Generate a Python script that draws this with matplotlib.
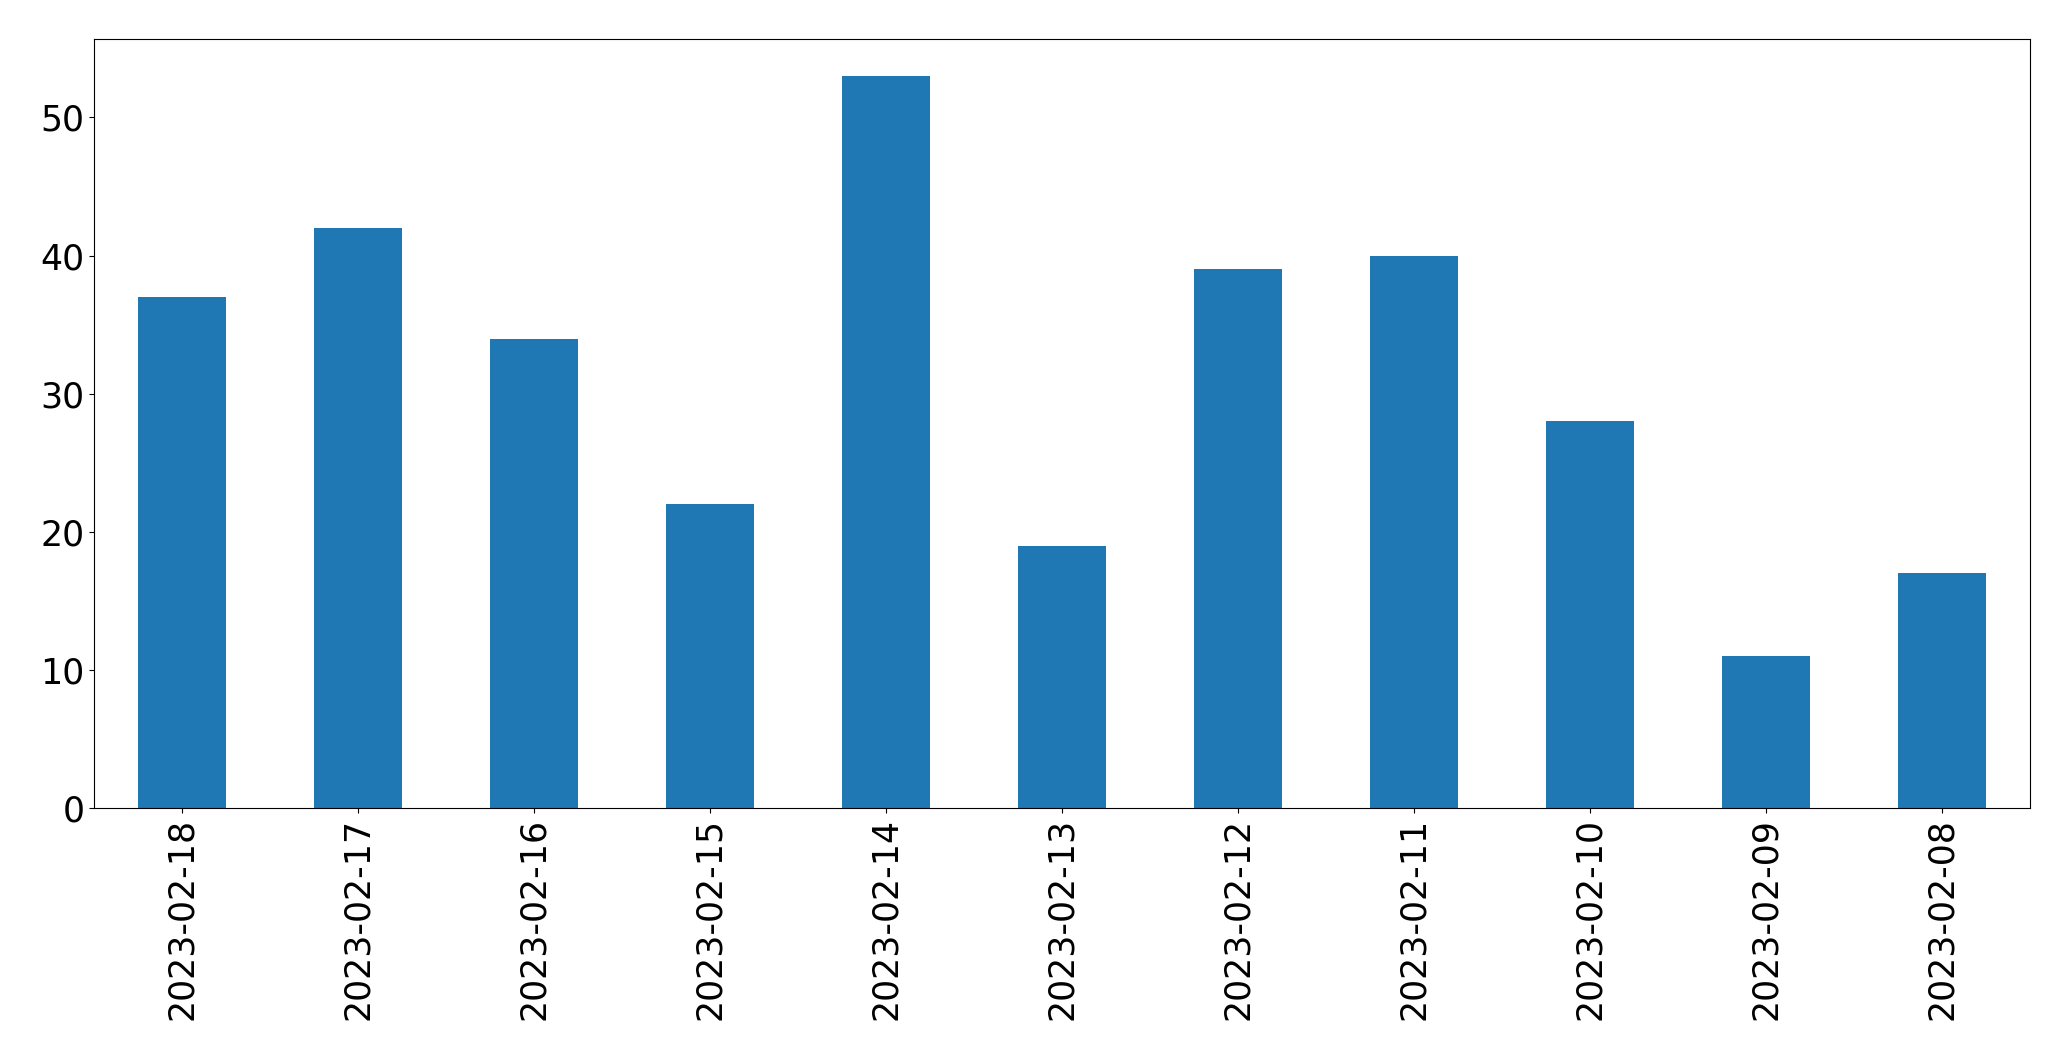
import matplotlib
matplotlib.use("Agg")
import matplotlib.pyplot as plt
import numpy as np

dates = ["2023-02-18", "2023-02-17", "2023-02-16", "2023-02-15", "2023-02-14",
         "2023-02-13", "2023-02-12", "2023-02-11", "2023-02-10", "2023-02-09",
         "2023-02-08"]
counts = [37, 42, 34, 22, 53, 19, 39, 40, 28, 11, 17]

fig, ax = plt.subplots(figsize=(20.71, 10.61), dpi=100)
x = np.arange(len(dates))
ax.bar(x, counts, width=0.5, color="#1f77b4")
ax.set_xlim(-0.5, len(dates) - 0.5)
ax.set_ylim(0, max(counts) * 1.05)
ax.set_xticks(x)
ax.set_xticklabels(dates, rotation=90)
ax.tick_params(labelsize=25)
fig.subplots_adjust(left=0.0454, right=0.980, top=0.963, bottom=0.238)
fig.savefig("out.png", dpi=100)
